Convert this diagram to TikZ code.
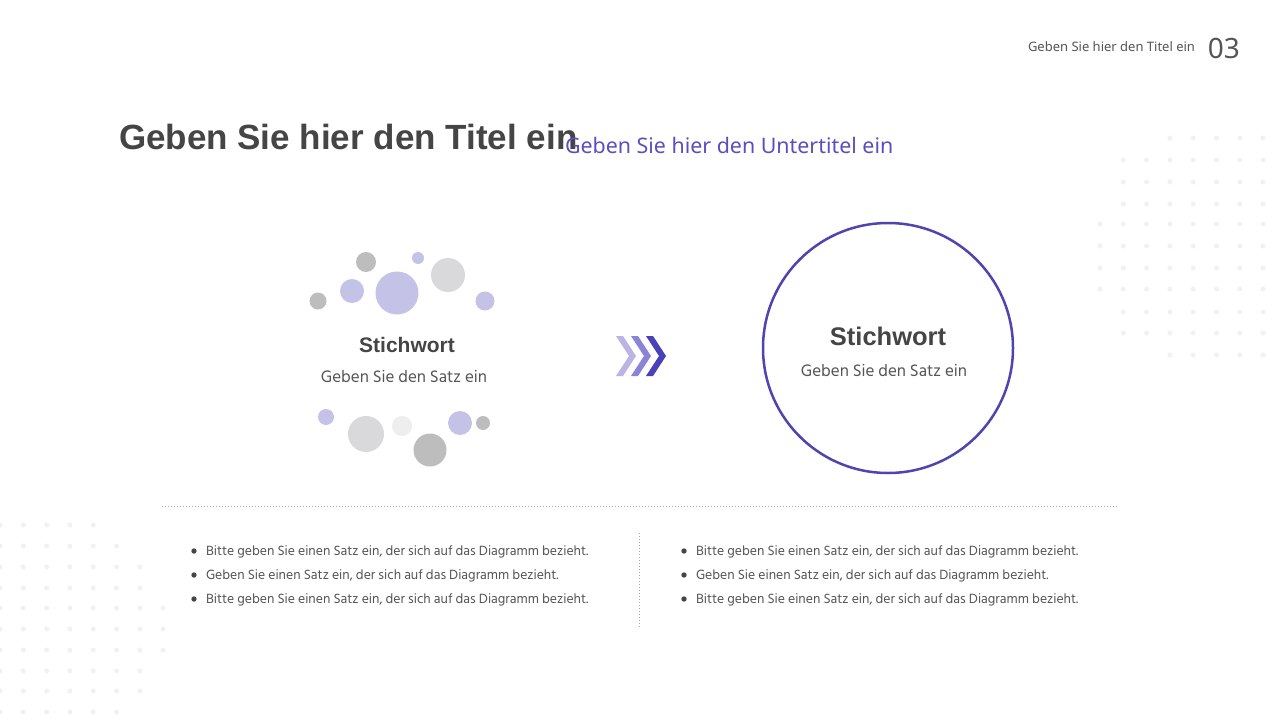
\documentclass[tikz,border=0pt]{standalone}
\usepackage{fontspec}
\setmainfont{Liberation Sans}
\newfontfamily\hind{Hind Siliguri}
\newfontfamily\noto{Noto Sans}
\definecolor{titlegray}{HTML}{454545}
\definecolor{textgray}{HTML}{555555}
\definecolor{mainpurple}{HTML}{4F45B0}
\definecolor{subpurple}{HTML}{5A4FC0}
\definecolor{lav}{HTML}{C5C2E8}
\definecolor{gry}{HTML}{BDBDBD}
\definecolor{lgry}{HTML}{D9D9DB}
\definecolor{vlgry}{HTML}{EEEEEE}
\definecolor{dotc}{HTML}{F1F1F1}
\definecolor{chevA}{HTML}{BAB5E2}
\definecolor{chevB}{HTML}{8B84D6}
\definecolor{chevC}{HTML}{4A40B8}
\definecolor{sepc}{HTML}{A8A8A8}
\tikzset{
  txt/.style={inner sep=0pt, outer sep=0pt},
  sep/.style={draw=sepc, line width=0.8pt, dash pattern=on 1pt off 2pt},
  bubble/.style={circle, inner sep=0pt, minimum size=#1},
}
\begin{document}
\begin{tikzpicture}[x=1pt,y=-1pt]
\useasboundingbox (0,0) rectangle (1280,720);
\fill[white] (0,0) rectangle (1280,720);

% background dot grids
\foreach \yy/\a/\b in {138/3/7,160/1/7,182/1/7,204/1/7,224/0/7,246/0/7,268/0/7,289/0/7,312/1/7,333/1/7,355/3/7}{
  \foreach \k in {\a,...,\b}{
    \fill[dotc] ({1100+23.3*\k},\yy) circle[radius=2.5pt];
  }
}
\foreach \yy/\b in {525/4,546/5,567/6,588/6,608/7,629/7,650/7,671/6,691/6,712/5}{
  \foreach \k in {0,...,\b}{
    \fill[dotc] ({23.3*\k},\yy) circle[radius=2.5pt];
  }
}

% header
\node[txt, anchor=base east, text=textgray, font=\noto\fontsize{13}{15}\selectfont] (hdr) at (1195,51) {Geben Sie hier den Titel ein};
\node[txt, anchor=base east, text=textgray, font=\noto\fontsize{28}{32}\selectfont] (num) at (1240,58) {03};

% title and subtitle
\node[txt, anchor=base west, text=titlegray, font=\bfseries\fontsize{35}{40}\selectfont] (title) at (119,149) {Geben Sie hier den Titel ein};
\node[txt, anchor=base west, text=subpurple, font=\noto\fontsize{21.4}{25}\selectfont] (subtitle) at (565,153) {Geben Sie hier den Untertitel ein};

% bubbles
\foreach \bx/\by/\br/\bc [count=\i] in {366/262/10/gry,418/258/6/lav,448/275/17/lgry,352/291/12/lav,397/293/21.5/lav,318/301/8.5/gry,485/301/9.5/lav,326/417/8/lav,366/434/18/lgry,402/426/10/vlgry,460/423/12/lav,483/423/7/gry,430/450/16.5/gry}{
  \node[bubble={2*\br pt}, fill=\bc] (b\i) at (\bx,\by) {};
}

% left keyword
\node[txt, anchor=base, text=titlegray, font=\bfseries\fontsize{21}{25}\selectfont] (lkey) at (407,352) {Stichwort};
\node[txt, anchor=base, text=textgray, font=\hind\fontsize{17}{20}\selectfont] (lsent) at (404,382) {Geben Sie den Satz ein};

% chevrons
\foreach \cx/\cc in {616/chevA,631/chevB,646/chevC}{
  \fill[\cc] (\cx,336) -- (\cx+7,336) -- (\cx+20,356) -- (\cx+7,376) -- (\cx,376) -- (\cx+13,356) -- cycle;
}

% right circle
\node[circle, draw=mainpurple, line width=2.5pt, minimum size=250pt, inner sep=0pt] (circ) at (888,348) {};
\node[txt, anchor=base, text=titlegray, font=\bfseries\fontsize{25.5}{30}\selectfont] (rkey) at (888,345) {Stichwort};
\node[txt, anchor=base, text=textgray, font=\hind\fontsize{17}{20}\selectfont] (rsent) at (884,376) {Geben Sie den Satz ein};

% separators
\coordinate (h1) at (162,506);
\coordinate (h2) at (1119,506);
\draw[sep] (h1) -- (h2);
\coordinate (v1) at (639,533);
\coordinate (v2) at (639,628);
\draw[sep] (v1) -- (v2);

% bullets
\foreach \col/\bxx in {l/194,r/684}{
  \foreach \yy/\t [count=\j] in {555/{Bitte geben Sie einen Satz ein, der sich auf das Diagramm bezieht.},579/{Geben Sie einen Satz ein, der sich auf das Diagramm bezieht.},603/{Bitte geben Sie einen Satz ein, der sich auf das Diagramm bezieht.}}{
    \fill[titlegray] (\bxx,\yy-4) circle[radius=2.7pt];
    \node[txt, anchor=base west, text=textgray, font=\hind\fontsize{13.7}{16}\selectfont] (\col t\j) at (\bxx+12,\yy) {\t};
  }
}
\end{tikzpicture}
\end{document}
